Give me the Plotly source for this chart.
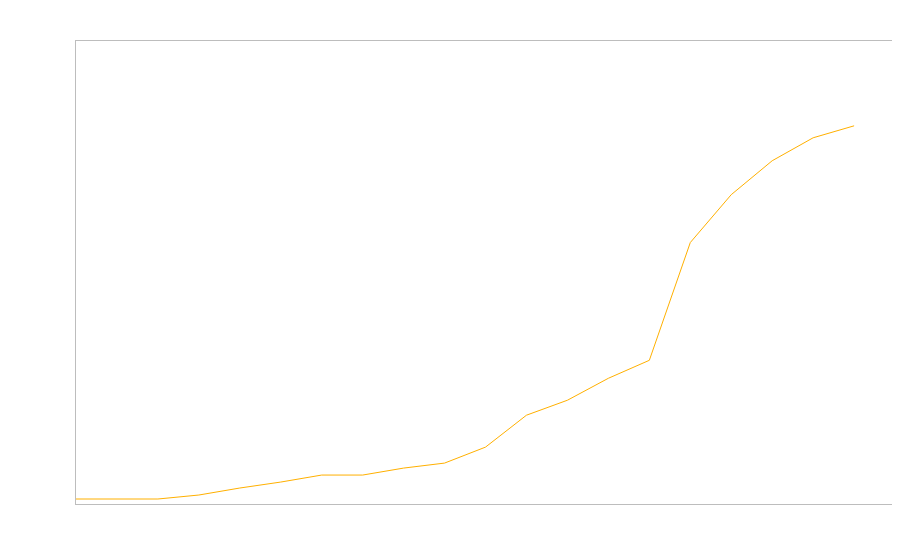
import plotly.graph_objects as go

# 20 periods, values
periods = list(range(20))
values = [0, 0, 0, 4, 11, 17, 24, 24, 31, 36, 52, 84, 99, 121, 139, 257, 305, 339, 362, 374]

fig = go.Figure()
fig.add_trace(go.Scatter(
    x=periods,
    y=values,
    mode='lines',
    line=dict(color='#FFB000', width=1),
    showlegend=False,
    hoverinfo='skip',
))

fig.update_layout(
    width=900,
    height=560,
    margin=dict(l=68, r=15, t=33, b=64),
    paper_bgcolor='white',
    plot_bgcolor='white',
    xaxis=dict(range=[0, 19.95], showgrid=False, zeroline=False, showticklabels=False,
               ticks='', showline=True, linecolor='#bdbdbd', linewidth=1, mirror=True),
    yaxis=dict(range=[-5, 459], showgrid=False, zeroline=False, showticklabels=False,
               ticks='', showline=True, linecolor='#bdbdbd', linewidth=1, mirror=True),
)

fig.write_html("out.html")
